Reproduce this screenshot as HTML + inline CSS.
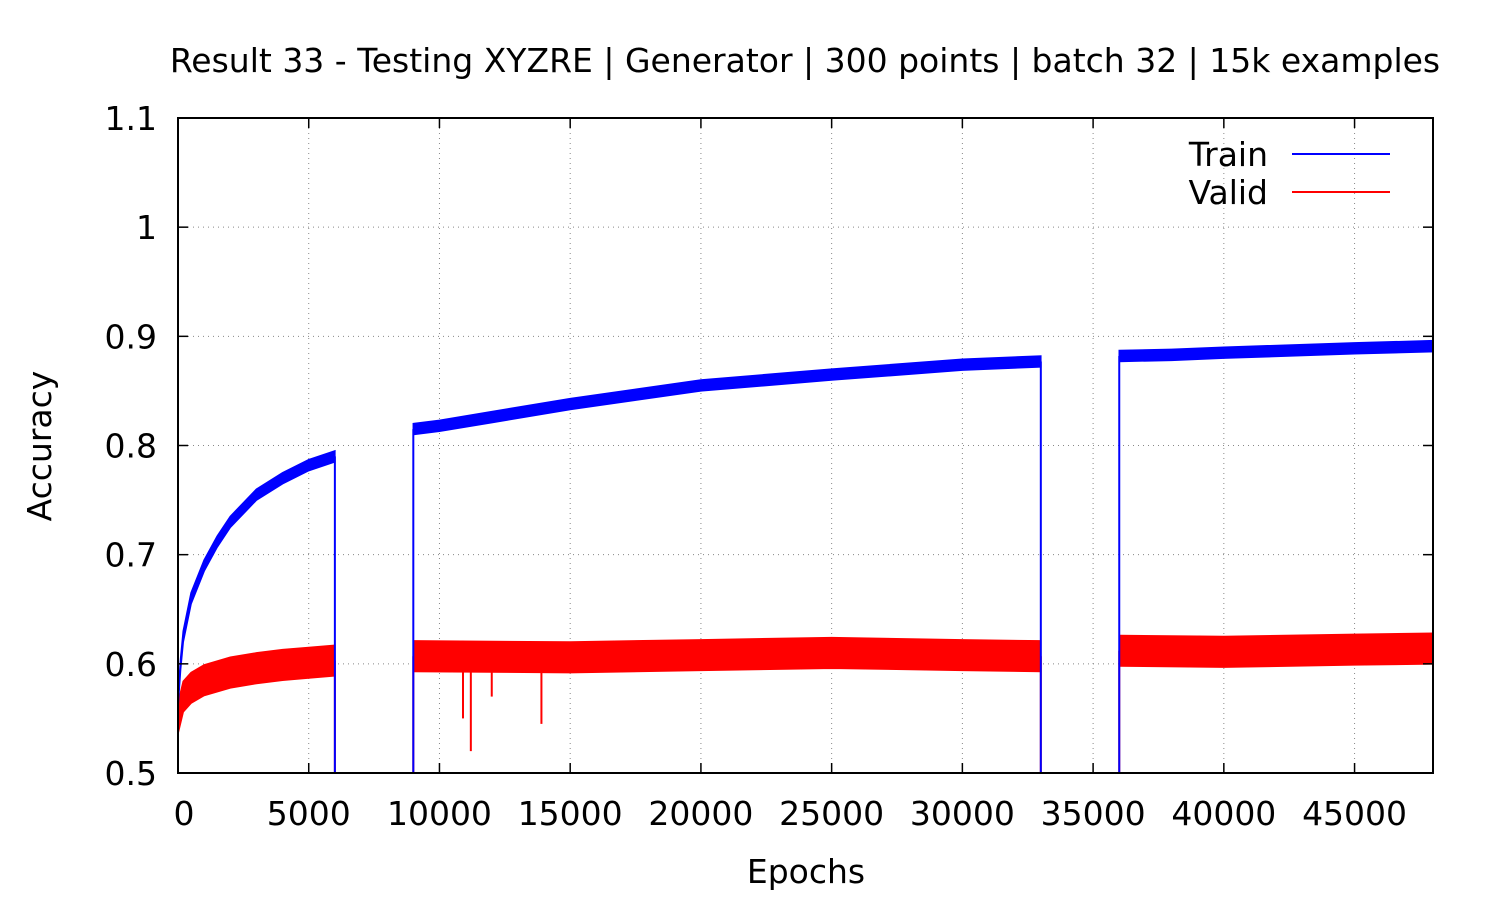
<!DOCTYPE html>
<html><head><meta charset="utf-8"><style>
body{margin:0;background:#fff;}
svg text{font-family:"DejaVu Sans","Liberation Sans",sans-serif;}
</style></head><body>
<svg id="chart" width="1500" height="900" xmlns="http://www.w3.org/2000/svg">
<rect width="1500" height="900" fill="#fff"/>
<text x="805" y="72" font-size="33" text-anchor="middle">Result 33 - Testing XYZRE | Generator | 300 points | batch 32 | 15k examples</text>
<g id="grid"></g>
<g id="series"></g>
<rect x="178" y="118" width="1255" height="655" fill="none" stroke="#000" stroke-width="2"/>
<g id="ticks"></g>
<text transform="translate(51,446) rotate(-90)" font-size="33" text-anchor="middle">Accuracy</text>
<text x="806" y="883" font-size="33" text-anchor="middle">Epochs</text>
<g>
<text x="1268" y="166" font-size="33" text-anchor="end">Train</text>
<line x1="1292" y1="154" x2="1390" y2="154" stroke="#0000ff" stroke-width="2"/>
<text x="1268" y="204" font-size="33" text-anchor="end">Valid</text>
<line x1="1292" y1="192" x2="1390" y2="192" stroke="#ff0000" stroke-width="2"/>
</g>
</svg>
<script>
const xTicks=[0,5000,10000,15000,20000,25000,30000,35000,40000,45000];
const yTicks=[0.5,0.6,0.7,0.8,0.9,1,1.1];
const yTickLabels=["0.5","0.6","0.7","0.8","0.9","1","1.1"];
const trainSeg1X=[0,100,200,500,1000,1500,2000,3000,4000,5000,6000];
const trainSeg1Y=[0.565,0.6,0.625,0.66,0.69,0.712,0.73,0.755,0.77,0.782,0.79];
const trainSeg2X=[9000,10000,12000,15000,20000,25000,30000,33000];
const trainSeg2Y=[0.815,0.818,0.826,0.838,0.855,0.865,0.874,0.877];
const trainSeg3X=[36000,38000,40000,45000,48000];
const trainSeg3Y=[0.882,0.883,0.885,0.889,0.891];
const validSeg1X=[0,200,500,1000,2000,3000,4000,5000,6000];
const validSeg1Y=[0.55,0.57,0.578,0.585,0.592,0.596,0.599,0.601,0.603];
const validSeg2X=[9000,15000,20000,25000,30000,33000];
const validSeg2Y=[0.607,0.606,0.608,0.61,0.608,0.607];
const validSeg3X=[36000,40000,45000,48000];
const validSeg3Y=[0.612,0.611,0.613,0.614];
const validDipX=[10900,11200,12000,13900];
const validDipY=[0.55,0.52,0.57,0.545];
const trainHalfBand=0.005, validHalfBand=0.014;
const X0=178,X1=1433,XMAX=48000,Y0=773,Y1=118,YMIN=0.5,YMAX=1.1;
const sx=v=>X0+(v/XMAX)*(X1-X0);
const sy=v=>Y0-(v-YMIN)/(YMAX-YMIN)*(Y0-Y1);
const NS="http://www.w3.org/2000/svg";
const grid=document.getElementById('grid'),ticks=document.getElementById('ticks'),ser=document.getElementById('series');
function mk(tag,attrs,parent){const e=document.createElementNS(NS,tag);for(const k in attrs)e.setAttribute(k,attrs[k]);parent.appendChild(e);return e;}
xTicks.forEach((t,i)=>{const x=sx(t);
 if(t>0){const g=mk('line',{x1:x,y1:Y1,x2:x,y2:Y0,stroke:'#888','stroke-width':1,'stroke-dasharray':'1,4'},grid);
 
 }
 const l=mk('line',{x1:x,y1:Y0,x2:x,y2:Y0-10,stroke:'#000','stroke-width':1.5},ticks);
 
 
 const l2=mk('line',{x1:x,y1:Y1,x2:x,y2:Y1+10,stroke:'#000','stroke-width':1.5},ticks);
 
 
 const tx=mk('text',{x:x+(t===0?6:0),y:825,'font-size':33,'text-anchor':'middle'},ticks);tx.textContent=String(t);
 
 
});
yTicks.forEach((t,i)=>{const y=sy(t);
 if(t>0.5&&t<1.1){const g=mk('line',{x1:X0,y1:y,x2:X1,y2:y,stroke:'#888','stroke-width':1,'stroke-dasharray':'1,4'},grid);
 
 }
 const l=mk('line',{x1:X0,y1:y,x2:X0+10,y2:y,stroke:'#000','stroke-width':1.5},ticks);
 
 
 const l2=mk('line',{x1:X1,y1:y,x2:X1-10,y2:y,stroke:'#000','stroke-width':1.5},ticks);
 
 
 const tx=mk('text',{x:157,y:y+12,'font-size':33,'text-anchor':'end'},ticks);tx.textContent=yTickLabels[i];
 
 
});
function band(xs,ys,hb,color,name){
 let pts=xs.map((x,i)=>sx(x)+','+sy(ys[i]+hb));
 pts=pts.concat(xs.slice().reverse().map((x,i)=>sx(x)+','+sy(ys[ys.length-1-i]-hb)));
 const p=mk('polygon',{points:pts.join(' '),fill:color,stroke:color,'stroke-width':1.5},ser);
 
 
 const a=mk('line',{x1:sx(xs[0]),y1:sy(YMIN),x2:sx(xs[0]),y2:sy(ys[0]),stroke:color,'stroke-width':2},ser);
 
 
 const b=mk('line',{x1:sx(xs[xs.length-1]),y1:sy(ys[ys.length-1]),x2:sx(xs[xs.length-1]),y2:sy(YMIN),stroke:color,'stroke-width':2},ser);
 
 
}
band(validSeg1X,validSeg1Y,validHalfBand,'#ff0000','valid-segment-1');
band(validSeg2X,validSeg2Y,validHalfBand,'#ff0000','valid-segment-2');
band(validSeg3X,validSeg3Y,validHalfBand,'#ff0000','valid-segment-3');
validDipX.forEach((x,i)=>{const d=mk('line',{x1:sx(x),y1:sy(0.6),x2:sx(x),y2:sy(validDipY[i]),stroke:'#ff0000','stroke-width':2},ser);
 
 });
band(trainSeg1X,trainSeg1Y,trainHalfBand,'#0000ff','train-segment-1');
band(trainSeg2X,trainSeg2Y,trainHalfBand,'#0000ff','train-segment-2');
band(trainSeg3X,trainSeg3Y,trainHalfBand,'#0000ff','train-segment-3');
</script>
</body></html>
